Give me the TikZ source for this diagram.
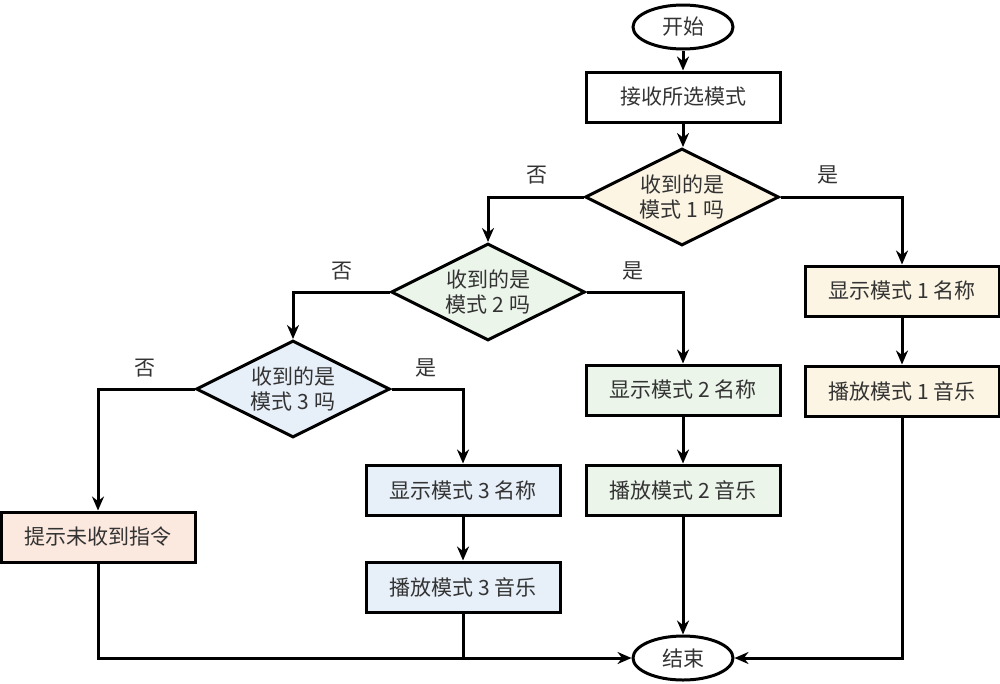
\documentclass[tikz,border=0pt]{standalone}
\usepackage{fontspec}
\setmainfont{Noto Sans CJK SC}
\usetikzlibrary{shapes.geometric,arrows.meta}
\definecolor{cyel}{HTML}{FCF5E4}
\definecolor{cgrn}{HTML}{ECF5EA}
\definecolor{cblu}{HTML}{E7EFF9}
\definecolor{cpch}{HTML}{FBE8DE}
\definecolor{ctxt}{HTML}{333333}
\tikzset{
  base/.style={draw=black, line width=3pt, text=ctxt, font=\fontsize{21}{25}\selectfont, align=center, inner sep=0pt},
  term/.style={base, ellipse, minimum width=100pt, minimum height=44pt},
  proc/.style={base, rectangle, minimum width=194pt, minimum height=50pt},
  dec/.style={base, diamond, minimum width=194pt, minimum height=97pt, aspect=2},
  conn/.style={line width=3pt, -{Stealth[length=14pt,width=12pt]}},
  line/.style={line width=3pt},
  lab/.style={text=ctxt, font=\fontsize{21}{25}\selectfont, inner sep=0pt}
}
\begin{document}
\begin{tikzpicture}[x=1pt,y=-1pt]
\useasboundingbox (0,0) rectangle (1000,683);
\node[term] (start) at (683,27) {开始};
\node[proc] (recv) at (683,97) {接收所选模式};
\node[dec, fill=cyel] (d1) at (682,197) {收到的是\\模式 1 吗};
\node[dec, fill=cgrn] (d2) at (488,292) {收到的是\\模式 2 吗};
\node[dec, fill=cblu] (d3) at (293,389) {收到的是\\模式 3 吗};
\node[proc, fill=cyel] (s1) at (902,291) {显示模式 1 名称};
\node[proc, fill=cyel] (p1) at (902,391) {播放模式 1 音乐};
\node[proc, fill=cgrn] (s2) at (683,390) {显示模式 2 名称};
\node[proc, fill=cgrn] (p2) at (683,490) {播放模式 2 音乐};
\node[proc, fill=cblu] (s3) at (463,490) {显示模式 3 名称};
\node[proc, fill=cblu] (p3) at (463,587) {播放模式 3 音乐};
\node[proc, fill=cpch] (warn) at (98,537) {提示未收到指令};
\node[term] (end) at (683,658) {结束};
\node[lab] (n1) at (537,175) {否};
\node[lab] (y1) at (828,175) {是};
\node[lab] (n2) at (342,271) {否};
\node[lab] (y2) at (633,271) {是};
\node[lab] (n3) at (145,368) {否};
\node[lab] (y3) at (426,368) {是};
\coordinate (m3) at (463,658);
\draw[conn] (start) -- (recv);
\draw[conn] (recv) -- (recv |- d1.north);
\draw[conn] (d1.west) -| (d2.north);
\draw[conn] (d1.east) -| (s1.north);
\draw[conn] (s1) -- (p1);
\draw[conn] (p1.south) |- (end.east);
\draw[conn] (d2.east) -| (s2.north);
\draw[conn] (s2) -- (p2);
\draw[conn] (p2.south) -- (end.north);
\draw[conn] (d2.west) -| (d3.north);
\draw[conn] (d3.east) -| (s3.north);
\draw[conn] (s3) -- (p3);
\draw[line] (p3.south) -- (m3);
\draw[conn] (d3.west) -| (warn.north);
\draw[conn] (warn.south) |- (end.west);
\end{tikzpicture}
\end{document}
